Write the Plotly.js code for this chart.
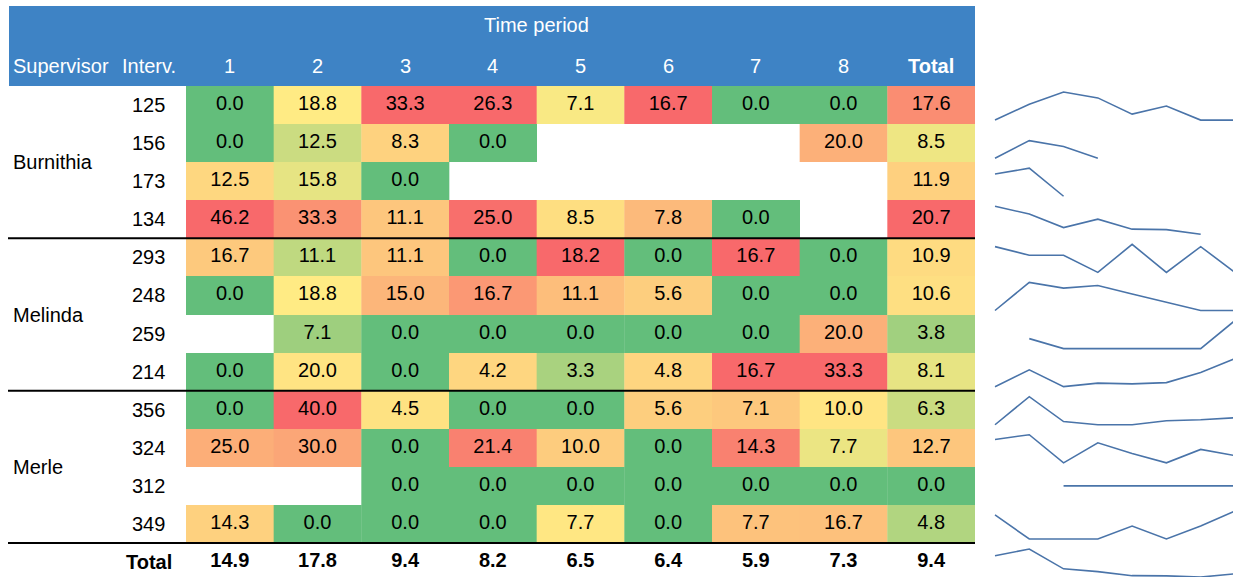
<!DOCTYPE html>
<html>
<head>
<meta charset="utf-8">
<script src="https://cdn.plot.ly/plotly-3.0.1.min.js"></script>
<style>html,body{margin:0;padding:0;background:#fff;}#chart{width:1233px;height:577px;}</style>
</head>
<body>
<div id="chart"></div>
<script>
// ---------- data ----------
const periods = ['1', '2', '3', '4', '5', '6', '7', '8'];
const supervisors = ['Burnithia', 'Melinda', 'Merle'];
const supervisorSizes = [4, 4, 4];
const interviewers = ['125', '156', '173', '134', '293', '248', '259', '214', '356', '324', '312', '349'];
const period1 = [0.0, 0.0, 12.5, 46.2, 16.7, 0.0, null, 0.0, 0.0, 25.0, null, 14.3];
const period2 = [18.8, 12.5, 15.8, 33.3, 11.1, 18.8, 7.1, 20.0, 40.0, 30.0, null, 0.0];
const period3 = [33.3, 8.3, 0.0, 11.1, 11.1, 15.0, 0.0, 0.0, 4.5, 0.0, 0.0, 0.0];
const period4 = [26.3, 0.0, null, 25.0, 0.0, 16.7, 0.0, 4.2, 0.0, 21.4, 0.0, 0.0];
const period5 = [7.1, null, null, 8.5, 18.2, 11.1, 0.0, 3.3, 0.0, 10.0, 0.0, 7.7];
const period6 = [16.7, null, null, 7.8, 0.0, 5.6, 0.0, 4.8, 5.6, 0.0, 0.0, 0.0];
const period7 = [0.0, null, null, 0.0, 16.7, 0.0, 0.0, 16.7, 7.1, 14.3, 0.0, 7.7];
const period8 = [0.0, 20.0, null, null, 0.0, 0.0, 20.0, 33.3, 10.0, 7.7, 0.0, 16.7];
const interviewerTotal = [17.6, 8.5, 11.9, 20.7, 10.9, 10.6, 3.8, 8.1, 6.3, 12.7, 0.0, 4.8];
const periodTotal = [14.9, 17.8, 9.4, 8.2, 6.5, 6.4, 5.9, 7.3];
const grandTotal = 9.4;

// ---------- layout constants ----------
const W = 1233, H = 577;
const FONT = "'Liberation Sans Narrow', 'Arial Narrow', 'Liberation Sans', Arial, sans-serif";
const FS = 20;
const HEAD_TOP = 6, HEAD_BOT = 86, ROWH = (543 - 86) / 12;
const TABLE_L = 8, TABLE_R = 975, DATA_L = 186;
const GREEN = '#63BE7B', YELLOW = '#FFEB84', RED = '#F8696B';
const BLUE = '#3E83C5';
const SPARK = '#4A74A9';

const columns = [period1, period2, period3, period4, period5, period6, period7, period8, interviewerTotal];
const nRows = interviewers.length;

function percentile(arr, p) {
  const s = arr.slice().sort((a, b) => a - b);
  const r = p * (s.length - 1);
  const lo = Math.floor(r), hi = Math.ceil(r);
  return s[lo] + (s[hi] - s[lo]) * (r - lo);
}

const traces = [];
// heatmap, one trace per column with its own 3-colour scale (Excel style)
columns.forEach((col, ci) => {
  const vals = col.filter(v => v !== null);
  const mn = Math.min(...vals), mx = Math.max(...vals);
  const mid = percentile(vals, 0.5);
  const p = Math.min(Math.max((mid - mn) / (mx - mn), 0.0001), 0.9999);
  traces.push({
    type: 'heatmap', xaxis: 'x', yaxis: 'y',
    z: col.map(v => [v]), x0: ci, dx: 1, y0: 0, dy: 1,
    zmin: mn, zmax: mx,
    colorscale: [[0, GREEN], [p, YELLOW], [1, RED]],
    showscale: false, hoverinfo: 'skip', zsmooth: false
  });
});

// cell texts
const tx = [], ty = [], tt = [];
columns.forEach((col, ci) => col.forEach((v, ri) => {
  if (v !== null) { tx.push(ci); ty.push(ri); tt.push(v.toFixed(1)); }
}));
traces.push({
  type: 'scatter', mode: 'text', xaxis: 'x', yaxis: 'y',
  x: tx, y: ty, text: tt, textposition: 'middle center',
  textfont: {family: FONT, size: FS, color: '#000'}, cliponaxis: false, hoverinfo: 'skip'
});
// total row texts
const totRow = periodTotal.concat([grandTotal]);
traces.push({
  type: 'scatter', mode: 'text', xaxis: 'x', yaxis: 'y',
  x: totRow.map((v, i) => i), y: totRow.map(() => nRows), text: totRow.map(v => v.toFixed(1)),
  textposition: 'middle center',
  textfont: {family: FONT, size: FS, color: '#000', weight: 'bold'}, cliponaxis: false, hoverinfo: 'skip'
});

// ---------- layout ----------
const yBottomIdx = -0.5 + (H - HEAD_BOT) / ROWH;
const layout = {
  width: W, height: H, margin: {l: 0, r: 0, t: 0, b: 0},
  paper_bgcolor: '#fff', plot_bgcolor: 'rgba(0,0,0,0)',
  showlegend: false, hovermode: false,
  font: {family: FONT, size: FS, color: '#000'},
  xaxis: {domain: [DATA_L / W, TABLE_R / W], range: [-0.5, 8.5], visible: false, fixedrange: true},
  yaxis: {domain: [0, 1 - HEAD_BOT / H], range: [yBottomIdx, -0.5], visible: false, fixedrange: true},
  shapes: [], annotations: []
};

// header band
layout.shapes.push({type: 'rect', xref: 'paper', yref: 'paper', layer: 'below',
  x0: 9 / W, x1: TABLE_R / W, y0: 1 - HEAD_BOT / H, y1: 1 - HEAD_TOP / H,
  fillcolor: BLUE, line: {width: 0}});

const hy1 = 1 - 25 / H, hy2 = 1 - 66 / H;
layout.annotations.push({text: 'Time period', xref: 'x', yref: 'paper', x: (periods.length - 1) / 2, y: hy1,
  showarrow: false, xanchor: 'center', yanchor: 'middle', font: {family: FONT, size: FS, color: '#fff'}});
layout.annotations.push({text: 'Supervisor', xref: 'paper', yref: 'paper', x: 11 / W, y: hy2,
  showarrow: false, xanchor: 'left', yanchor: 'middle', font: {family: FONT, size: FS, color: '#fff'}});
layout.annotations.push({text: 'Interv.', xref: 'paper', yref: 'paper', x: 148.5 / W, y: hy2,
  showarrow: false, xanchor: 'center', yanchor: 'middle', font: {family: FONT, size: FS, color: '#fff'}});
periods.forEach((p, i) => layout.annotations.push({text: p, xref: 'x', yref: 'paper', x: i, y: hy2,
  showarrow: false, xanchor: 'center', yanchor: 'middle', font: {family: FONT, size: FS, color: '#fff'}}));
layout.annotations.push({text: '<b>Total</b>', xref: 'x', yref: 'paper', x: periods.length, y: hy2,
  showarrow: false, xanchor: 'center', yanchor: 'middle', font: {family: FONT, size: FS, color: '#fff'}});

// interviewer labels
interviewers.forEach((iv, ri) => layout.annotations.push({text: iv, xref: 'paper', yref: 'y', x: 148.5 / W, y: ri,
  showarrow: false, xanchor: 'center', yanchor: 'middle', font: {family: FONT, size: FS, color: '#000'}}));
layout.annotations.push({text: '<b>Total</b>', xref: 'paper', yref: 'y', x: 148.5 / W, y: nRows,
  showarrow: false, xanchor: 'center', yanchor: 'middle', font: {family: FONT, size: FS, color: '#000'}});

// supervisors + separators
let start = 0;
supervisors.forEach((s, gi) => {
  const n = supervisorSizes[gi];
  layout.annotations.push({text: s, xref: 'paper', yref: 'y', x: 11 / W, y: start + (n - 1) / 2,
    showarrow: false, xanchor: 'left', yanchor: 'middle', font: {family: FONT, size: FS, color: '#000'}});
  start += n;
  layout.shapes.push({type: 'line', xref: 'paper', yref: 'y', x0: TABLE_L / W, x1: TABLE_R / W,
    y0: start - 0.5, y1: start - 0.5, line: {color: '#000', width: 2}});
});

// ---------- sparklines ----------
const SPK_L = 990, SPK_X0 = 995, SPK_STEP = 34.28;
const xr0 = 1 - (SPK_X0 - SPK_L) / SPK_STEP;
layout.xaxis2 = {domain: [SPK_L / W, 1], range: [xr0, xr0 + (W - SPK_L) / SPK_STEP],
  visible: false, fixedrange: true, anchor: 'y2'};
const sparkRows = [];
for (let r = 0; r < nRows; r++) sparkRows.push(columns.slice(0, 8).map(c => c[r]));
sparkRows.push(periodTotal);
sparkRows.forEach((vals, r) => {
  const T = HEAD_BOT + ROWH * r;
  const Bfull = T + ROWH;
  const Bc = Math.min(Bfull, H);
  const nn = vals.filter(v => v !== null);
  const mn = Math.min(...nn), mx = Math.max(...nn);
  let top, bot;
  if (mx - mn < 1e-9) {
    top = mx + (ROWH / 2); bot = mx - (Bc - T - ROWH / 2);
  } else {
    const ppu = (ROWH - 10) / (mx - mn);
    top = mx + 6 / ppu;
    bot = mx - (Bc - T - 6) / ppu;
  }
  const yname = 'yaxis' + (r + 2);
  layout[yname] = {domain: [1 - Bc / H, 1 - T / H], range: [bot, top], visible: false,
    fixedrange: true, anchor: 'x2'};
  traces.push({type: 'scatter', mode: 'lines', xaxis: 'x2', yaxis: 'y' + (r + 2),
    x: periods.map(p => Number(p)), y: vals, connectgaps: false,
    line: {color: SPARK, width: 1.6}, hoverinfo: 'skip'});
});

Plotly.newPlot('chart', traces, layout, {staticPlot: true, displayModeBar: false});
</script>
</body>
</html>
